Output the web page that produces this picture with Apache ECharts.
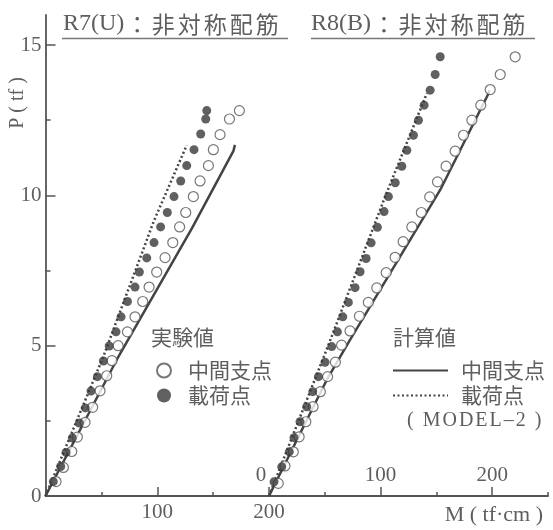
<!DOCTYPE html>
<html><head><meta charset="utf-8">
<script src="https://cdn.jsdelivr.net/npm/echarts@6/dist/echarts.min.js"></script>
<style>html,body{margin:0;padding:0;background:#fff}#c{width:553px;height:530px}</style>
</head><body><div id="c"></div>
<script>
// ---- R7(U) panel (left) : M (tf·cm), P (tf)
const r7OpenM = [9.4,16,23.5,28.5,35.4,42.2,48.8,54.8,59.5,65,73.3,80.1,87,92.7,99.5,107,113.9,120,125.5,132.3,138.3,145.8,150.2,156.2,164.6,173.5];
const r7OpenP = [0.48,0.95,1.48,1.96,2.45,2.95,3.5,4.0,4.5,5.0,5.46,5.96,6.47,6.95,7.45,7.93,8.43,8.95,9.43,9.96,10.48,10.99,11.52,12.02,12.54,12.82];
const r7FillM = [7,13.6,18.4,24,30.3,35.6,40.7,46.4,51.8,57,63.1,67.6,73.3,80.1,84,90.6,97.1,103,109,115,121,126.4,132.9,138.9,143.4,144.3];
const r7FillP = [0.48,0.98,1.45,1.93,2.43,2.93,3.49,3.97,4.49,4.99,5.46,5.96,6.47,6.95,7.45,7.92,8.43,8.95,9.43,9.96,10.48,10.99,11.52,12.04,12.54,12.82];
const r7CalcMidM = [0,64,131,168.2,169.5];
const r7CalcMidP = [0,4.55,8.9,11.48,11.68];
const r7CalcLoadM = [0,51.7,97,126.4];
const r7CalcLoadP = [0,4.63,9.15,11.67];
// ---- R8(B) panel (right)
const r8OpenM = [8.3,14.3,21.8,27,33,39.5,46,52.5,59.5,65,72.6,81,89,96.6,105,113,120.2,128,136.5,144,151,158.7,166.8,174.3,181.8,189.8,198.2,207.2,220.6];
const r8OpenP = [0.42,1.0,1.47,1.97,2.47,2.97,3.47,3.97,4.45,5.02,5.49,5.98,6.44,6.92,7.43,7.94,8.46,8.95,9.43,9.95,10.45,10.97,11.47,12.0,12.5,13.0,13.52,14.02,14.61];
const r8FillM = [4.5,11.4,18.2,22.4,27.8,33.8,39.2,44.3,50.2,56.2,61.3,66.1,71.1,77.1,81.6,87,91.5,97.1,103.1,107,113.1,119,123.5,129.4,133.9,139,144.4,148.9,153.4];
const r8FillP = [0.47,0.97,1.47,1.94,2.47,2.97,3.47,3.97,4.45,4.97,5.46,5.96,6.44,6.93,7.46,7.9,8.42,8.94,9.46,9.96,10.42,10.97,11.5,12.0,12.5,13.0,13.5,14.02,14.61];
const r8CalcMidM = [0,51.7,72.6,153.4,196.7,197.4];
const r8CalcMidP = [0,3.86,5.19,10.18,13.39,13.5];
const r8CalcLoadM = [0,53,104.5,141.5];
const r8CalcLoadP = [0,5.0,10.0,13.4];
// ---- ticks / labels
const yMajor = [0,5,10,15];
const yMinor = [2.5,7.5,12.5];
const xMajor = [0,100,200];
const xLeftLabels = [100,200];
const xLeftMinor = [50,150];
const xRightMinor = [50,150,250];
const titles = ['R7(U)：非対称配筋','R8(B)：非対称配筋'];

const zip = (a,b) => a.map((v,i)=>[v,b[i]]);
const SERIF = "'Liberation Serif','DejaVu Serif','Noto Sans CJK JP',serif";
const CJK = "'Noto Sans CJK JP','Noto Sans CJK SC',sans-serif";
const AX = '#555';
const TXT = '#5e5e5e';

// letter-spaced rich text: each character gets a small padding
function spaced(s){
  return s.split('').map(ch => /[\x00-\x7f]/.test(ch) ? '{l|' + ch + '}' : '{c|' + ch + '}').join('');
}

function openSeries(name, data, xi, yi){
  return {name, type:'scatter', xAxisIndex:xi, yAxisIndex:yi, data, symbol:'circle', symbolSize:10,
    itemStyle:{color:'#fff', borderColor:'#555', borderWidth:1.2}, z:3, silent:true};
}
function fillSeries(name, data, xi, yi){
  return {name, type:'scatter', xAxisIndex:xi, yAxisIndex:yi, data, symbol:'circle', symbolSize:9,
    itemStyle:{color:'#383838'}, z:4, silent:true};
}
function lineSeries(name, data, xi, yi, dashed){
  return {name, type:'line', xAxisIndex:xi, yAxisIndex:yi, data, symbol:'none', showSymbol:false,
    itemStyle:{color:'#444'},
    lineStyle:{color:'#444', width:2.5, type: dashed ? [2,2.5] : 'solid'}, z:2, silent:true, animation:false};
}

const majorX = (grid, labels, inside) => ({
  type:'value', gridIndex:grid, position:'bottom', offset:0, min:0, max: grid===0?200:250,
  axisLine:{show:true, lineStyle:{color:AX, width:1.8}},
  axisTick:{show:true, inside:true, length:9, customValues:xMajor, lineStyle:{color:AX, width:1.5}},
  axisLabel:{show:true, inside:inside, margin: inside?10:6, customValues:labels,
    fontFamily:SERIF, fontSize:21, color:TXT,
    formatter: v => (inside && v===0) ? '{z|0}' : String(v),
    rich:{z:{fontFamily:SERIF, fontSize:21, color:TXT, padding:[0,16,0,0]}}},
  splitLine:{show:false}
});
const minorX = (grid, vals) => ({
  type:'value', gridIndex:grid, position:'bottom', offset:0, min:0, max: grid===0?200:250,
  axisLine:{show:false}, axisLabel:{show:false}, splitLine:{show:false},
  axisTick:{show:true, inside:true, length:4, customValues:vals, lineStyle:{color:AX, width:1.5}}
});

const titleRich = {
  l:{fontFamily:SERIF, fontSize:24, color:TXT},
  c:{fontFamily:CJK, fontSize:23, color:TXT, padding:[0,1.5,0,1.5]}
};
const modelRich = {
  l:{fontFamily:SERIF, fontSize:20, color:TXT, padding:[0,1,0,1]},
  c:{fontFamily:SERIF, fontSize:20, color:TXT, padding:[0,1,0,1]}
};

const option = {
  animation:false,
  backgroundColor:'#fff',
  grid:[
    {left:45.5, top:15, width:223.5, height:481},
    {left:269, top:15, width:279, height:481}
  ],
  xAxis:[
    majorX(0, xLeftLabels, false),
    minorX(0, xLeftMinor),
    Object.assign(majorX(1, xMajor, true), {name:'M ( tf·cm )', nameLocation:'end', nameGap:-5,
      nameTextStyle:{fontFamily:SERIF, fontSize:22, color:TXT, align:'right', verticalAlign:'top', padding:[8,0,0,0]}}),
    minorX(1, xRightMinor)
  ],
  yAxis:[
    {type:'value', gridIndex:0, position:'left', offset:0, min:0, max:16,
     axisLine:{show:true, lineStyle:{color:AX, width:1.8}},
     axisTick:{show:true, inside:true, length:10, customValues:yMajor, lineStyle:{color:AX, width:1.5}},
     axisLabel:{show:true, margin:4, customValues:yMajor, fontFamily:SERIF, fontSize:21, color:TXT},
     splitLine:{show:false}},
    {type:'value', gridIndex:0, position:'left', offset:0, min:0, max:16,
     axisLine:{show:false}, axisLabel:{show:false}, splitLine:{show:false},
     axisTick:{show:true, inside:true, length:5, customValues:yMinor, lineStyle:{color:AX, width:1.5}}},
    {type:'value', gridIndex:1, min:0, max:16, show:false}
  ],
  legend:[
    {left:156, top:360, orient:'vertical', padding:0, itemGap:4, itemWidth:38, itemHeight:14,
     data:['実験値:中間支点','実験値:載荷点'], selectedMode:false,
     formatter: n => n.split(':')[1],
     textStyle:{fontFamily:CJK, fontSize:21, color:TXT}},
    {left:392, top:360, orient:'vertical', padding:0, itemGap:4, itemWidth:55, itemHeight:14,
     data:['計算値:中間支点','計算値:載荷点'], selectedMode:false,
     itemStyle:{opacity:0},
     formatter: n => n.split(':')[1],
     textStyle:{fontFamily:CJK, fontSize:21, color:TXT, padding:[0,0,0,8]}}
  ],
  title:[
    {text:spaced(titles[0]), left:63, top:12, padding:0, textStyle:{fontWeight:'normal', rich:titleRich}},
    {text:spaced(titles[1]), left:311, top:12, padding:0, textStyle:{fontWeight:'normal', rich:titleRich}},
    {text:'実験値', left:151, top:327, padding:0, textStyle:{fontFamily:CJK, fontSize:21, fontWeight:'normal', color:TXT}},
    {text:'計算値', left:393, top:327, padding:0, textStyle:{fontFamily:CJK, fontSize:21, fontWeight:'normal', color:TXT}},
    {text:spaced('( MODEL–2 )'), left:406, top:411, padding:0, textStyle:{fontWeight:'normal', rich:modelRich}}
  ],
  graphic:[
    {type:'line', shape:{x1:62, y1:38.5, x2:288, y2:38.5}, style:{stroke:'#777', lineWidth:1.5}, silent:true},
    {type:'line', shape:{x1:311, y1:38.5, x2:535, y2:38.5}, style:{stroke:'#777', lineWidth:1.5}, silent:true},
    {type:'text', x:18, y:103, rotation:Math.PI/2,
     style:{text:'P ( tf )', font:"20px 'Liberation Serif', serif", fill:TXT, textAlign:'center', textVerticalAlign:'middle'}}
  ],
  series:[
    lineSeries('計算値:中間支点', zip(r7CalcMidM, r7CalcMidP), 0, 0, false),
    lineSeries('計算値:載荷点', zip(r7CalcLoadM, r7CalcLoadP), 0, 0, true),
    openSeries('実験値:中間支点', zip(r7OpenM, r7OpenP), 0, 0),
    fillSeries('実験値:載荷点', zip(r7FillM, r7FillP), 0, 0),
    lineSeries('計算値:中間支点', zip(r8CalcMidM, r8CalcMidP), 2, 2, false),
    lineSeries('計算値:載荷点', zip(r8CalcLoadM, r8CalcLoadP), 2, 2, true),
    openSeries('実験値:中間支点', zip(r8OpenM, r8OpenP), 2, 2),
    fillSeries('実験値:載荷点', zip(r8FillM, r8FillP), 2, 2)
  ]
};
const chart = echarts.init(document.getElementById('c'), null, {renderer:'canvas'});
chart.setOption(option);
</script></body></html>
